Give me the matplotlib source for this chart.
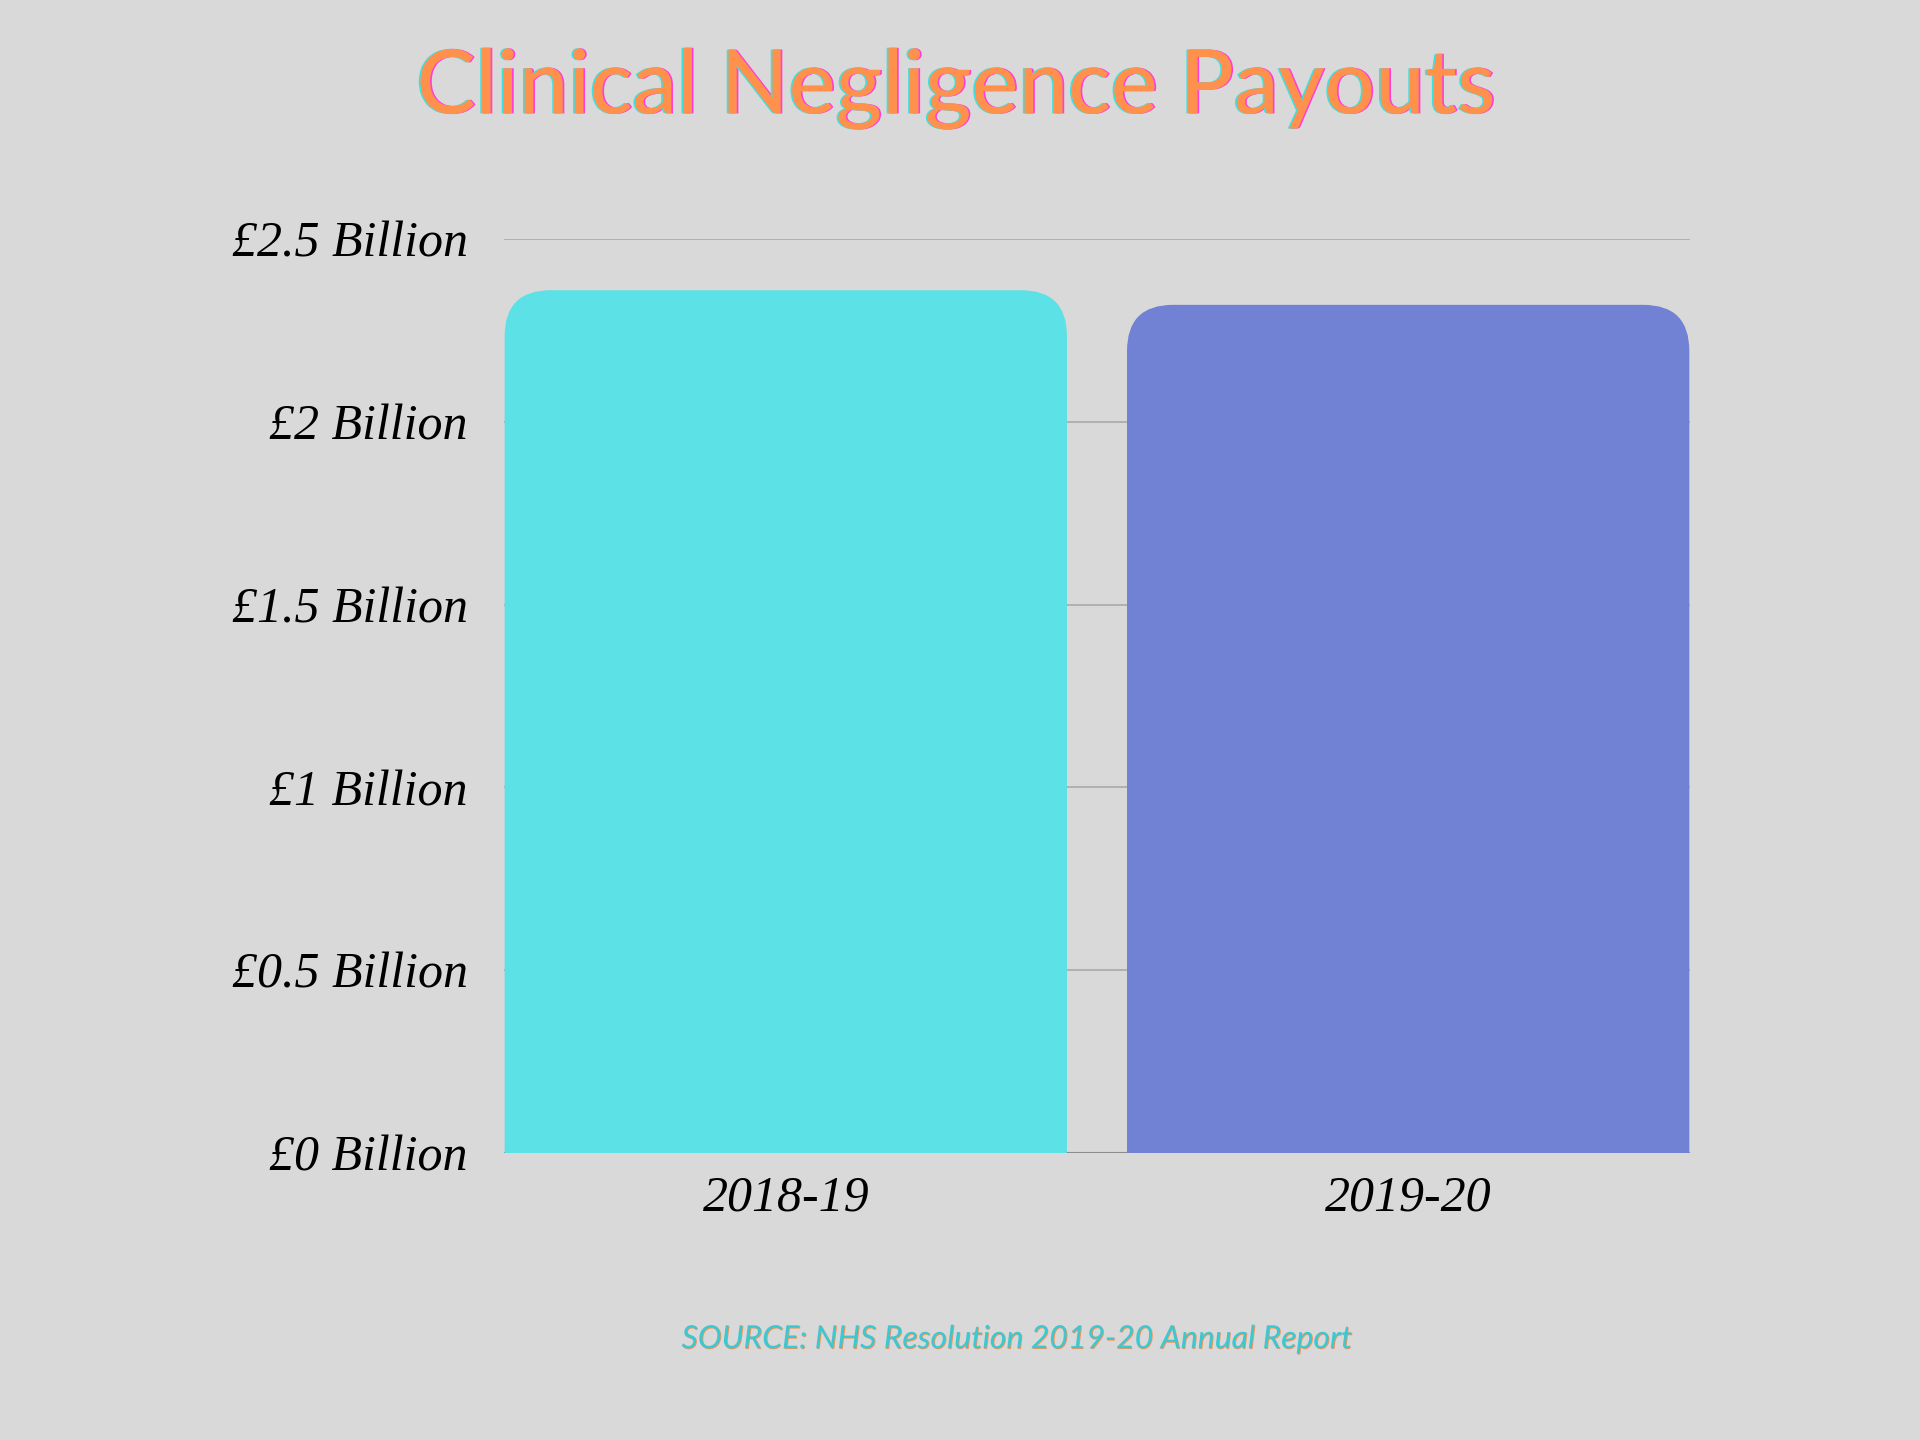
import matplotlib.pyplot as plt
import matplotlib.patheffects as pe
from matplotlib.patches import PathPatch
from matplotlib.path import Path

years = ['2018-19', '2019-20']
payouts = [2.36, 2.32]  # billion GBP
bar_colors = ['#5CE1E6', '#7181D3']
tick_vals = [0, 0.5, 1, 1.5, 2, 2.5]
tick_labels = ['£0 Billion', '£0.5 Billion', '£1 Billion', '£1.5 Billion', '£2 Billion', '£2.5 Billion']

bg = '#D9D9D9'
serif_it = {'family': 'Liberation Serif', 'style': 'italic'}

fig = plt.figure(figsize=(19.2, 14.4), dpi=100, facecolor=bg)
ax = fig.add_axes([0.2625, 0.1993, 0.6177, 0.6347], facecolor=bg)

xs = list(range(len(years)))
bw = 0.9035
ax.set_xlim(-0.4528, 1.4528)
ax.set_ylim(0, 2.5)

# gridlines behind the bars
ax.set_yticks(tick_vals)
ax.yaxis.grid(True, color='#A6A6A6', lw=1.1)
ax.set_axisbelow(True)
ax.axhline(0, color='#8C8C8C', lw=1.5, zorder=1)

# bars with rounded top corners (radius in pixels -> data units)
fig.canvas.draw()
bbox = ax.get_window_extent()
r_px = 46
rx = r_px * (1.4528 + 0.4528) / bbox.width
ry = r_px * 2.5 / bbox.height
for x, v, c in zip(xs, payouts, bar_colors):
    l, rt = x - bw / 2, x + bw / 2
    verts = [(l, 0), (l, v - ry), (l, v), (l + rx, v), (rt - rx, v), (rt, v),
             (rt, v - ry), (rt, 0), (l, 0)]
    codes = [Path.MOVETO, Path.LINETO, Path.CURVE3, Path.CURVE3, Path.LINETO,
             Path.CURVE3, Path.CURVE3, Path.LINETO, Path.CLOSEPOLY]
    ax.add_patch(PathPatch(Path(verts, codes), fc=c, ec='none', zorder=2))

for s in ax.spines.values():
    s.set_visible(False)
ax.tick_params(length=0)
ax.set_yticklabels(tick_labels, fontdict=serif_it, fontsize=36)
ax.tick_params(axis='y', pad=26)
ax.set_xticks(xs)
ax.set_xticklabels(years, fontdict=serif_it, fontsize=36)
ax.tick_params(axis='x', pad=16)

# title with the offset colour fringe (magenta right, cyan left)
fringe = [pe.SimplePatchShadow(offset=(1.2, 0), shadow_rgbFace='#FF3DDB', alpha=1),
          pe.SimplePatchShadow(offset=(-1.2, 0), shadow_rgbFace='#3FE0E0', alpha=1),
          pe.Normal()]
fig.text(0.498, 0.938, 'Clinical Negligence Payouts', ha='center', va='center',
         color='#FF914D', fontsize=64, family='Lato', weight='medium',
         path_effects=fringe)

src_fx = [pe.SimplePatchShadow(offset=(0.6, -0.6), shadow_rgbFace='#F0935A', alpha=1),
          pe.Normal()]
fig.text(0.530, 0.070, 'SOURCE: NHS Resolution 2019-20 Annual Report', ha='center',
         va='center', color='#3CC8D2', fontsize=23, family='Lato', style='italic',
         path_effects=src_fx)

fig.savefig('out.png', dpi=100, facecolor=bg)
